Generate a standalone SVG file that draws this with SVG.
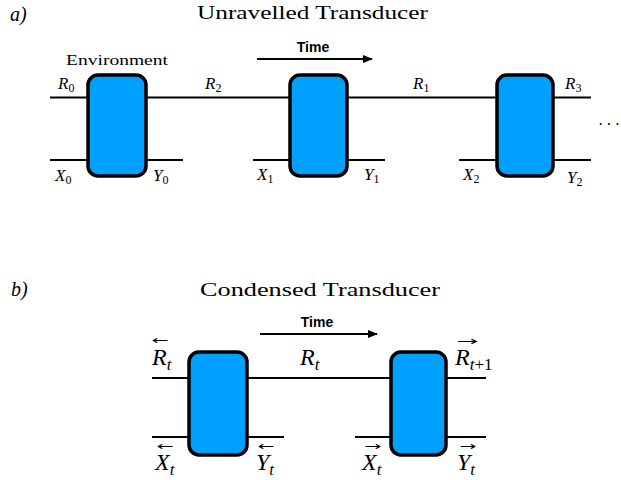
<svg xmlns="http://www.w3.org/2000/svg" width="621" height="480" viewBox="0 0 621 480">
<defs>
<style>
.box{fill:#00A0FF;stroke:#000;stroke-width:3.5}
.wire{stroke:#000;stroke-width:2;fill:none}
.ttl{font-family:'Liberation Serif','DejaVu Serif','Times New Roman',serif;fill:#000}
.lbl{font-family:'Liberation Serif','DejaVu Serif','Times New Roman',serif;font-style:italic;fill:#000}
.up{font-style:normal}
.time{font-family:'Liberation Sans',Arial,sans-serif;font-weight:bold;font-size:14px;fill:#000}
.acc{font-family:'DejaVu Sans',sans-serif;font-style:normal;font-size:12px}
</style>
<marker id="ah" markerWidth="10" markerHeight="8" refX="9" refY="4" orient="auto" markerUnits="userSpaceOnUse">
<path d="M0,0 L10,4 L0,8 Z" fill="#000"/>
</marker>
</defs>
<rect width="621" height="480" fill="#fff"/>

<!-- Panel a titles -->
<text class="lbl" x="10" y="21" font-size="20">a)</text>
<text class="ttl" x="197" y="19" font-size="19" textLength="231" lengthAdjust="spacingAndGlyphs">Unravelled Transducer</text>
<text class="time" x="313" y="52" text-anchor="middle">Time</text>

<g id="connectors">
<line class="wire" x1="257" y1="59" x2="372" y2="59" marker-end="url(#ah)"/>
<line class="wire" x1="50" y1="97.5" x2="90" y2="97.5"/>
<line class="wire" x1="144" y1="97.5" x2="292" y2="97.5"/>
<line class="wire" x1="345" y1="97.5" x2="499" y2="97.5"/>
<line class="wire" x1="551" y1="97.5" x2="591" y2="97.5"/>
<line class="wire" x1="50" y1="160" x2="90" y2="160"/>
<line class="wire" x1="144" y1="160" x2="183" y2="160"/>
<line class="wire" x1="253" y1="160" x2="292" y2="160"/>
<line class="wire" x1="345" y1="160" x2="385" y2="160"/>
<line class="wire" x1="459" y1="160" x2="499" y2="160"/>
<line class="wire" x1="551" y1="160" x2="591" y2="160"/>

<line class="wire" x1="260" y1="334" x2="377" y2="334" marker-end="url(#ah)"/>
<line class="wire" x1="152" y1="378" x2="191" y2="378"/>
<line class="wire" x1="245" y1="378" x2="393" y2="378"/>
<line class="wire" x1="444" y1="378" x2="486" y2="378"/>
<line class="wire" x1="152" y1="437" x2="191" y2="437"/>
<line class="wire" x1="245" y1="437" x2="284" y2="437"/>
<line class="wire" x1="355" y1="437" x2="393" y2="437"/>
<line class="wire" x1="444" y1="437" x2="486" y2="437"/>
</g>

<g id="env-a0">
<rect class="box" x="88" y="75" width="58" height="101" rx="10"/>
<text class="ttl" x="66" y="65" font-size="15" textLength="102" lengthAdjust="spacingAndGlyphs">Environment</text>
</g>
<g id="node-a1">
<rect class="box" x="290" y="75" width="57" height="101" rx="10"/>
</g>
<g id="node-a2">
<rect class="box" x="497" y="75" width="56" height="101" rx="10"/>
</g>

<g id="labels-a" class="lbl" font-size="17">
<text x="58" y="89">R<tspan class="up" font-size="12" dy="3">0</tspan></text>
<text x="205" y="89">R<tspan class="up" font-size="12" dy="3">2</tspan></text>
<text x="413" y="89">R<tspan class="up" font-size="12" dy="3">1</tspan></text>
<text x="565" y="89">R<tspan class="up" font-size="12" dy="3">3</tspan></text>
<text x="55" y="181">X<tspan class="up" font-size="12" dy="3">0</tspan></text>
<text x="153" y="181">Y<tspan class="up" font-size="12" dy="3">0</tspan></text>
<text x="257" y="180">X<tspan class="up" font-size="12" dy="3">1</tspan></text>
<text x="364" y="180">Y<tspan class="up" font-size="12" dy="3">1</tspan></text>
<text x="463" y="180">X<tspan class="up" font-size="12" dy="3">2</tspan></text>
<text x="567" y="183">Y<tspan class="up" font-size="12" dy="3">2</tspan></text>
</g>
<text class="ttl" x="598" y="130" font-size="16" textLength="22" lengthAdjust="spacing">···</text>

<!-- Panel b -->
<text class="lbl" x="11" y="296" font-size="20">b)</text>
<text class="ttl" x="200" y="296" font-size="19" textLength="240" lengthAdjust="spacingAndGlyphs">Condensed Transducer</text>
<text class="time" x="317" y="327" text-anchor="middle">Time</text>

<g id="node-b0">
<rect class="box" x="189" y="352" width="58" height="103" rx="10"/>
</g>
<g id="node-b1">
<rect class="box" x="391" y="352" width="55" height="103" rx="10"/>
</g>

<g id="labels-b" class="lbl" font-size="24">
<text><tspan class="acc" x="152" y="344" textLength="17" lengthAdjust="spacingAndGlyphs">←</tspan><tspan x="152" y="365">R</tspan><tspan font-size="17" dy="5">t</tspan></text>
<text x="300" y="365">R<tspan font-size="17" dy="5">t</tspan></text>
<text><tspan class="acc" x="456" y="345" textLength="22" lengthAdjust="spacingAndGlyphs">→</tspan><tspan x="455" y="365">R</tspan><tspan font-size="17" dy="5">t<tspan class="up">+1</tspan></tspan></text>
<text><tspan class="acc" x="157" y="450" textLength="17" lengthAdjust="spacingAndGlyphs">←</tspan><tspan x="155" y="470">X</tspan><tspan font-size="17" dy="5">t</tspan></text>
<text><tspan class="acc" x="258" y="450" textLength="17" lengthAdjust="spacingAndGlyphs">←</tspan><tspan x="256" y="470">Y</tspan><tspan font-size="17" dy="5">t</tspan></text>
<text><tspan class="acc" x="364" y="450" textLength="17" lengthAdjust="spacingAndGlyphs">→</tspan><tspan x="362" y="470">X</tspan><tspan font-size="17" dy="5">t</tspan></text>
<text><tspan class="acc" x="459" y="450" textLength="17" lengthAdjust="spacingAndGlyphs">→</tspan><tspan x="457" y="470">Y</tspan><tspan font-size="17" dy="5">t</tspan></text>
</g>
</svg>
